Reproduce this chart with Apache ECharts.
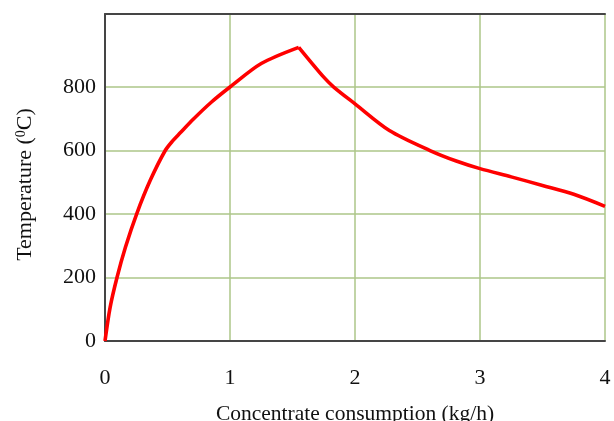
<!DOCTYPE html>
<html>
<head>
<meta charset="utf-8">
<script src="https://cdn.jsdelivr.net/npm/echarts@6/dist/echarts.min.js"></script>
<style>
  html, body { margin: 0; padding: 0; background: #ffffff; }
  #chart { width: 614px; height: 421px; }
</style>
</head>
<body>
<div id="chart"></div>
<script>
// Rising branch (kg/h, °C)
const riseX = [0, 0.041, 0.096, 0.164, 0.253, 0.362, 0.482, 0.545, 0.6, 0.71, 0.85, 1.0, 1.25, 1.55];
const riseY = [0, 106, 200, 296, 400, 506, 600, 632, 655, 700, 752, 800, 874, 925];
// Falling branch (kg/h, °C)
const fallX = [1.55, 1.75, 1.83, 2.0, 2.275, 2.6, 2.81, 3.0, 3.25, 3.5, 3.75, 4.0];
const fallY = [925, 831, 800, 747, 663, 600, 567, 543, 517, 490, 462, 424];
// Tick labels
const xTicks = [0, 1, 2, 3, 4];
const yTicks = [0, 200, 400, 600, 800];

const xTitle = 'Concentrate consumption (kg/h)';
const yTitle = 'Temperature ({sup|0}C)';

const FONT = 'Liberation Serif';
const GRID_GREEN = '#adc688';
const AXIS_DARK = '#454545';
const TRANSPARENT = 'rgba(0,0,0,0)';

const pairs = (xs, ys) => xs.map((x, i) => [x, ys[i]]);

const chart = echarts.init(document.getElementById('chart'), null, { renderer: 'canvas' });
chart.setOption({
  animation: false,
  backgroundColor: '#ffffff',
  grid: { left: 105, right: 9, top: 14, bottom: 80, containLabel: false, outerBoundsMode: 'none' },
  xAxis: [{
    type: 'value',
    min: xTicks[0],
    max: xTicks[xTicks.length - 1],
    interval: 1,
    position: 'bottom',
    name: xTitle,
    nameLocation: 'middle',
    nameGap: 62,
    nameTextStyle: { fontFamily: FONT, fontSize: 21.5, color: '#111' },
    axisLine: { show: true, onZero: false, lineStyle: { color: AXIS_DARK, width: 2 } },
    axisTick: { show: false },
    axisLabel: { fontFamily: FONT, fontSize: 22, color: '#111', margin: 26 },
    splitLine: { show: true, lineStyle: { color: GRID_GREEN, width: 1.5 } }
  }, {
    type: 'value',
    min: xTicks[0],
    max: xTicks[xTicks.length - 1],
    position: 'top',
    axisLine: { show: true, onZero: false, lineStyle: { color: AXIS_DARK, width: 2 } },
    axisTick: { show: false },
    axisLabel: { show: false },
    splitLine: { show: false }
  }],
  yAxis: {
    type: 'value',
    min: yTicks[0],
    max: 1030,
    interval: 200,
    name: yTitle,
    nameLocation: 'middle',
    nameGap: 68,
    nameTextStyle: {
      fontFamily: FONT, fontSize: 22, color: '#111', padding: [0, 14, 0, 0],
      rich: { sup: { fontFamily: FONT, fontSize: 14, color: '#111', verticalAlign: 'top', padding: [0, 0, 9, 0] } }
    },
    axisLine: { show: true, onZero: false, lineStyle: { color: AXIS_DARK, width: 2 } },
    axisTick: { show: false },
    axisLabel: {
      fontFamily: FONT, fontSize: 22, color: '#111', margin: 9,
      formatter: v => (yTicks.indexOf(v) >= 0 ? String(v) : '')
    },
    splitLine: {
      show: true,
      lineStyle: { color: [TRANSPARENT, GRID_GREEN, GRID_GREEN, GRID_GREEN, GRID_GREEN, TRANSPARENT, TRANSPARENT], width: 1.5 }
    }
  },
  series: [{
    name: 'rise',
    type: 'line',
    data: pairs(riseX, riseY),
    smooth: 0.3,
    showSymbol: false,
    lineStyle: { color: '#ff0000', width: 3.6 },
    z: 5
  }, {
    name: 'fall',
    type: 'line',
    data: pairs(fallX, fallY),
    smooth: 0.3,
    showSymbol: false,
    lineStyle: { color: '#ff0000', width: 3.6 },
    z: 5
  }]
});
</script>
</body>
</html>
